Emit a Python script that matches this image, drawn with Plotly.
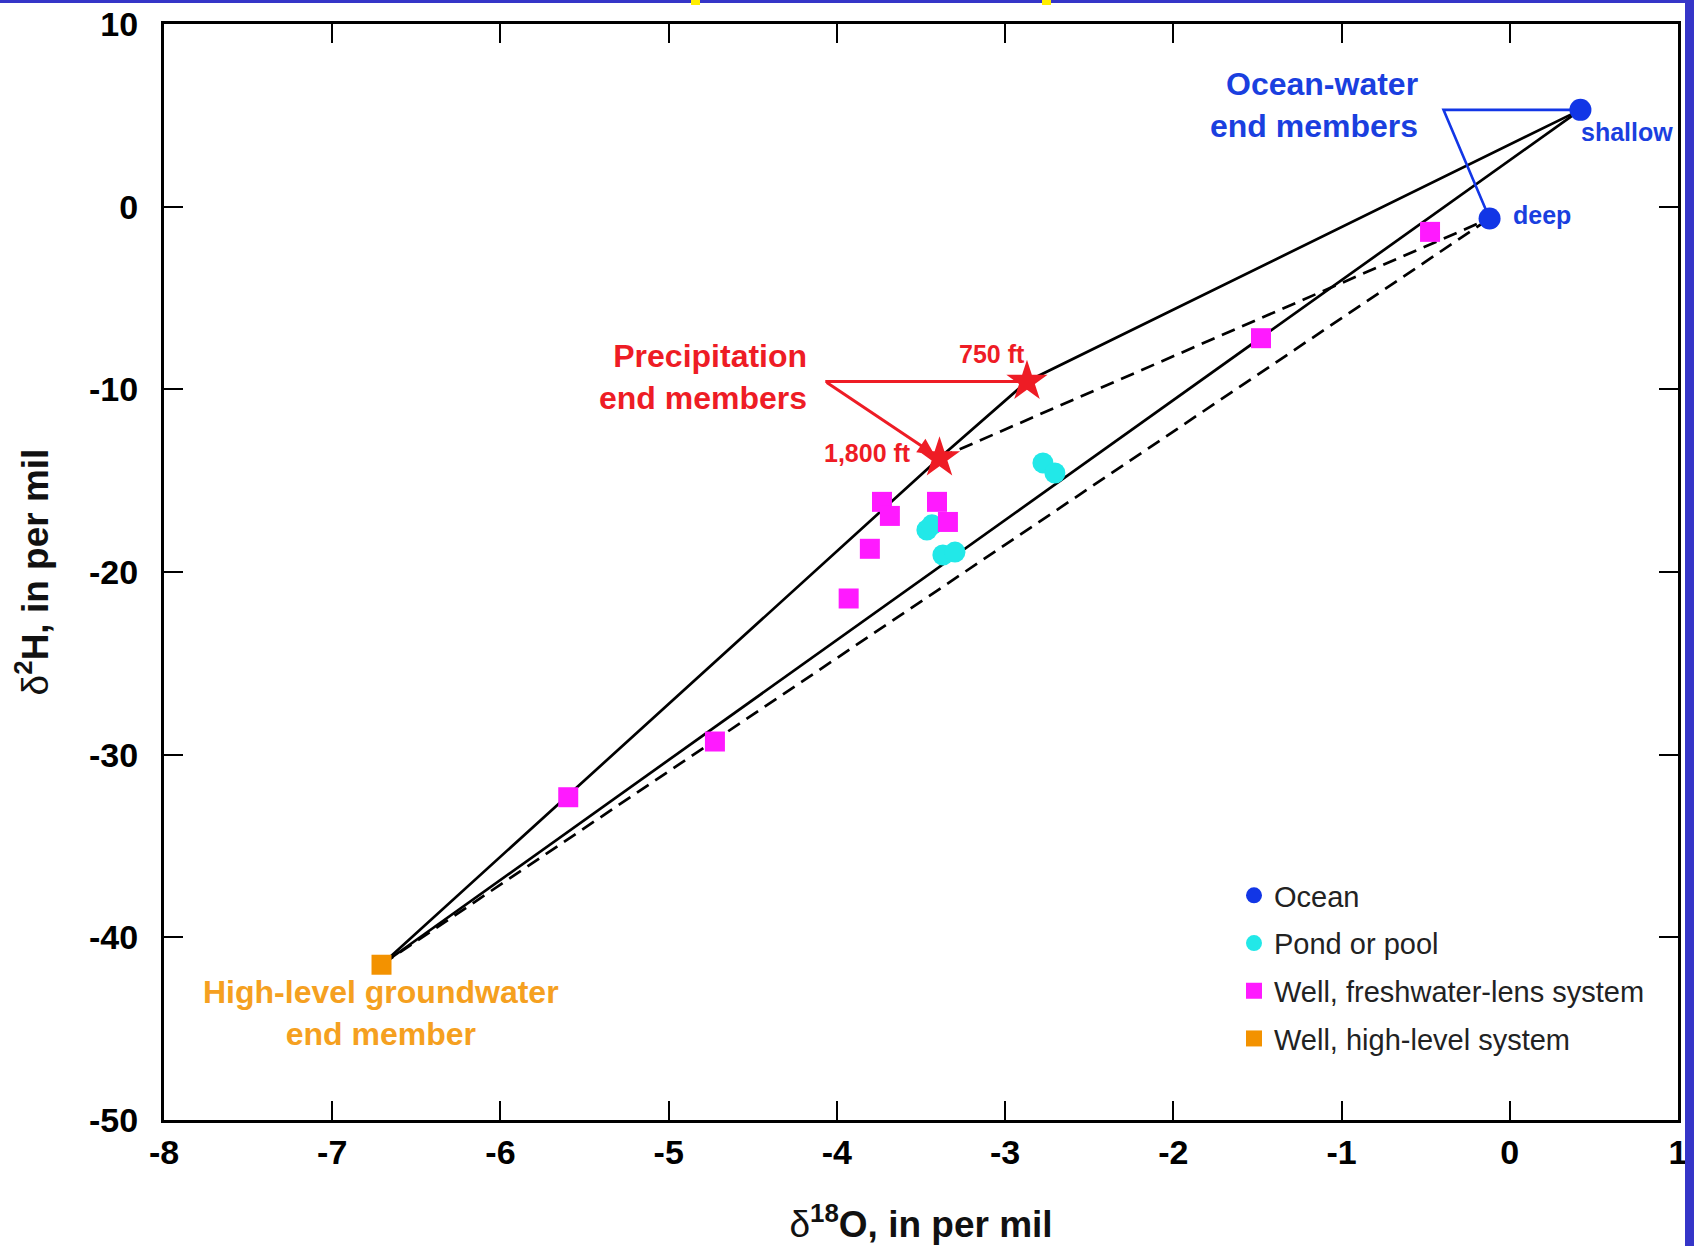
import plotly.graph_objects as go

# ---------------- data ----------------
ocean_label = ["shallow", "deep"]
ocean_x = [0.42, -0.12]
ocean_y = [5.3, -0.65]

pond_x = [-2.775, -2.704, -3.465, -3.435, -3.370, -3.298]
pond_y = [-14.03, -14.58, -17.70, -17.42, -19.07, -18.91]

lens_x = [-0.474, -1.479, -3.732, -3.685, -3.405, -3.340, -3.804, -3.93, -4.725, -5.597]
lens_y = [-1.38, -7.20, -16.16, -16.93, -16.16, -17.26, -18.73, -21.45, -29.28, -32.33]

high_x = [-6.707]
high_y = [-41.50]

precip_label = ["750 ft", "1,800 ft"]
precip_x = [-2.87, -3.39]
precip_y = [-9.57, -13.76]

x_ticks = [-8, -7, -6, -5, -4, -3, -2, -1, 0, 1]
y_ticks = [10, 0, -10, -20, -30, -40, -50]

# mixing lines between end members
solid_upper_x = [high_x[0], precip_x[1], precip_x[0], ocean_x[0]]
solid_upper_y = [high_y[0], precip_y[1], precip_y[0], ocean_y[0]]
solid_lower_x = [high_x[0], ocean_x[0]]
solid_lower_y = [high_y[0], ocean_y[0]]
dash_upper_x = [precip_x[1], ocean_x[1]]
dash_upper_y = [precip_y[1], ocean_y[1]]
dash_lower_x = [high_x[0], ocean_x[1]]
dash_lower_y = [high_y[0], ocean_y[1]]

# leader-line apex points
blue_apex = (-0.394, ocean_y[0])
red_apex = (-4.069, precip_y[0])

BLUE = "#1236e6"
BLUE_TXT = "#1a3fdf"
CYAN = "#22e8e8"
MAGENTA = "#ff1aff"
ORANGE = "#f39200"
ORANGE_TXT = "#f5a020"
RED = "#ee1c25"
FONT = "Liberation Sans, Arial, sans-serif"

fig = go.Figure()

line_style = dict(color="black", width=2.7)
dash_style = dict(color="black", width=2.7, dash="14px,8px")
fig.add_trace(go.Scatter(x=solid_upper_x, y=solid_upper_y, mode="lines", line=line_style, showlegend=False, hoverinfo="skip"))
fig.add_trace(go.Scatter(x=solid_lower_x, y=solid_lower_y, mode="lines", line=line_style, showlegend=False, hoverinfo="skip"))
fig.add_trace(go.Scatter(x=dash_upper_x, y=dash_upper_y, mode="lines", line=dash_style, showlegend=False, hoverinfo="skip"))
fig.add_trace(go.Scatter(x=dash_lower_x, y=dash_lower_y, mode="lines", line=dash_style, showlegend=False, hoverinfo="skip"))

# blue leader lines
fig.add_trace(go.Scatter(x=[ocean_x[1], blue_apex[0], ocean_x[0]], y=[ocean_y[1], blue_apex[1], ocean_y[0]],
                         mode="lines", line=dict(color=BLUE, width=2.6), showlegend=False, hoverinfo="skip"))
# red leader line (horizontal part)
fig.add_trace(go.Scatter(x=[red_apex[0], precip_x[0]], y=[red_apex[1], precip_y[0]],
                         mode="lines", line=dict(color=RED, width=3), showlegend=False, hoverinfo="skip"))
# red leader arrow to the 1,800 ft star
fig.add_annotation(x=precip_x[1], y=precip_y[1], ax=red_apex[0], ay=red_apex[1], xref="x", yref="y",
                   axref="x", ayref="y", text="", showarrow=True, arrowhead=2, arrowsize=1.1,
                   arrowwidth=3, arrowcolor=RED, standoff=6)

# markers
fig.add_trace(go.Scatter(x=ocean_x, y=ocean_y, mode="markers", name="Ocean", legendgroup="a",
                         marker=dict(symbol="circle", size=22, color=BLUE, line=dict(width=0))))
fig.add_trace(go.Scatter(x=pond_x, y=pond_y, mode="markers", name="Pond or pool", legendgroup="b",
                         marker=dict(symbol="circle", size=21, color=CYAN, line=dict(width=0))))
fig.add_trace(go.Scatter(x=lens_x, y=lens_y, mode="markers", name="Well, freshwater-lens system", legendgroup="c",
                         marker=dict(symbol="square", size=20, color=MAGENTA, line=dict(width=0))))
fig.add_trace(go.Scatter(x=high_x, y=high_y, mode="markers", name="Well, high-level system", legendgroup="d",
                         marker=dict(symbol="square", size=20, color=ORANGE, line=dict(width=0))))
fig.add_trace(go.Scatter(x=precip_x, y=precip_y, mode="markers", showlegend=False,
                         marker=dict(symbol="star", size=31, color=RED, line=dict(width=0))))

# text annotations
def txt(x, y, s, color, size, xanchor="center", align="center"):
    fig.add_annotation(x=x, y=y, xref="x", yref="y", text="<b>" + s + "</b>", showarrow=False,
                       font=dict(family=FONT, size=size, color=color), xanchor=xanchor, yanchor="middle", align=align)

txt(-0.535, 5.57, "Ocean-water<br>end members", BLUE_TXT, 32, xanchor="right", align="right")
txt(0.698, 4.09, ocean_label[0], BLUE_TXT, 25)
txt(0.190, -0.46, ocean_label[1], BLUE_TXT, 25)
txt(-4.165, -9.33, "Precipitation<br>end members", RED, 32, xanchor="right", align="right")
txt(-3.076, -8.09, precip_label[0], RED, 25)
txt(-3.818, -13.47, precip_label[1], RED, 25)
txt(-6.709, -44.15, "High-level groundwater<br>end member", ORANGE_TXT, 32)

# slide frame (blue border with yellow marks)
W, H = 1694, 1246
L, R, T, B = 164, 16, 24, 126
pw, ph = W - L - R, H - T - B
def px(xp):
    return (xp - L) / pw
def py(yp):
    return (H - B - yp) / ph
FRAME = "#3535c8"
fig.add_shape(type="rect", xref="paper", yref="paper", x0=px(1685), x1=px(1700), y0=py(1250), y1=py(-5),
              fillcolor=FRAME, line=dict(width=0), layer="above")
fig.add_shape(type="rect", xref="paper", yref="paper", x0=px(-5), x1=px(1700), y0=py(3), y1=py(-5),
              fillcolor=FRAME, line=dict(width=0), layer="above")
for xa, xb in [(691, 700), (1042, 1051)]:
    fig.add_shape(type="rect", xref="paper", yref="paper", x0=px(xa), x1=px(xb), y0=py(5), y1=py(-5),
                  fillcolor="#ffee00", line=dict(width=0), layer="above")

axis_common = dict(showgrid=False, zeroline=False, showline=True, linecolor="black", linewidth=3,
                   ticks="inside", ticklen=19, tickwidth=2, tickcolor="black", mirror="ticks",
                   tickfont=dict(family=FONT, size=34, color="black", weight="bold"))

fig.update_xaxes(range=[-8, 1], tickvals=x_ticks, ticktext=[str(v) for v in x_ticks],
                 ticklabelstandoff=0,
                 title=dict(text="δ<b><sup>18</sup>O, in per mil</b>", font=dict(family=FONT, size=37, color="#111"),
                            standoff=42),
                 **axis_common)
fig.update_yaxes(range=[-50, 10], tickvals=y_ticks, ticktext=[str(v) for v in y_ticks],
                 ticklabelstandoff=16,
                 title=dict(text="δ<b><sup>2</sup>H, in per mil</b>", font=dict(family=FONT, size=37, color="#111"),
                            standoff=30),
                 **axis_common)

fig.update_layout(
    width=W, height=H,
    margin=dict(l=L, r=R, t=T, b=B, autoexpand=False),
    paper_bgcolor="white", plot_bgcolor="white",
    showlegend=True,
    legend=dict(x=px(1234), y=py(870), xanchor="left", yanchor="top",
                font=dict(family=FONT, size=29, color="#222"),
                bgcolor="rgba(0,0,0,0)", traceorder="grouped", tracegroupgap=7),
)

fig.write_html("out.html")
